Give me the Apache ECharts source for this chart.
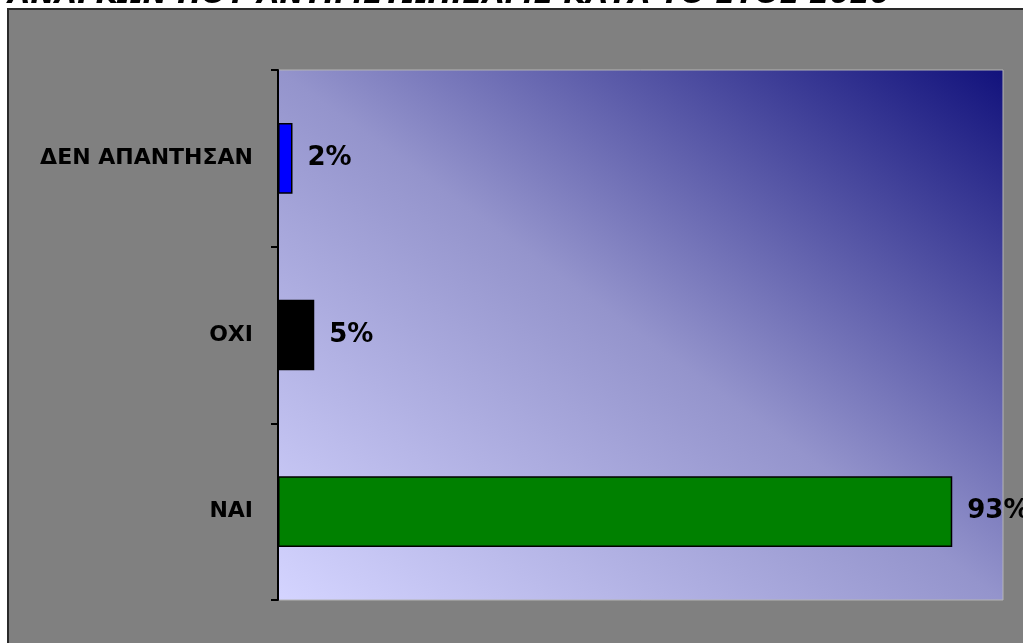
<!DOCTYPE html>
<html>
<head>
<meta charset="utf-8">
<script src="https://cdn.jsdelivr.net/npm/echarts@6/dist/echarts.min.js"></script>
<style>
  html, body { margin: 0; padding: 0; background: #fff; }
  #chart { width: 1023px; height: 643px; }
</style>
</head>
<body>
<div id="chart"></div>
<script>
// δεδομένα
const titleText = 'ΑΝΑΓΚΩΝ ΠΟΥ ΑΝΤΙΜΕΤΩΠΙΣΑΜΕ ΚΑΤΑ ΤΟ ΕΤΟΣ 2020'
const categories = ['ΝΑΙ', 'ΟΧΙ', 'ΔΕΝ ΑΠΑΝΤΗΣΑΝ']
const percentages = [93, 5, 2]
const barColors = ['#008000', '#000000', '#0000ff']

let chart = echarts.init(document.getElementById('chart'))

// διαγώνια διαβάθμιση: σκούρο πάνω δεξιά, ανοιχτό κάτω αριστερά
let plotGradient = new echarts.graphic.LinearGradient(388, 680, 893, -10, [
  {offset: 0, color: '#d4d4ff'},
  {offset: 0.5, color: '#9494cc'},
  {offset: 1, color: '#12127c'}
], true)

let option = {
  backgroundColor: '#ffffff',
  title: {
    text: titleText,
    left: 8,
    top: -19,
    padding: 0,
    textStyle: {
      fontFamily: 'DejaVu Sans',
      fontSize: 29,
      fontWeight: 'bold',
      fontStyle: 'italic',
      color: '#000'
    }
  },
  graphic: [
    {
      type: 'rect',
      z: -10,
      shape: {x: 8, y: 9, width: 1030, height: 650},
      style: {fill: '#808080', stroke: '#2a2a2a', lineWidth: 2}
    }
  ],
  grid: {
    left: 278,
    right: 20,
    top: 70,
    bottom: 43,
    show: true,
    borderColor: '#b4b4b4',
    borderWidth: 1,
    backgroundColor: plotGradient
  },
  xAxis: {
    type: 'value',
    min: 0,
    max: 100,
    show: false
  },
  yAxis: {
    type: 'category',
    data: categories,
    axisLine: {show: true, lineStyle: {color: '#000', width: 2}},
    axisTick: {show: true, length: 7, lineStyle: {color: '#000', width: 2}},
    axisLabel: {
      margin: 25,
      fontFamily: 'DejaVu Sans',
      fontSize: 22,
      fontWeight: 'bold',
      color: '#000'
    }
  },
  series: [
    {
      type: 'bar',
      barWidth: '40%',
      data: percentages.map((v, i) => ({
        value: v,
        itemStyle: {color: barColors[i], borderColor: '#000', borderWidth: 1.5}
      })),
      label: {
        show: true,
        position: 'right',
        distance: 15,
        formatter: '{c}%',
        fontFamily: 'DejaVu Sans',
        fontSize: 26,
        fontWeight: 'bold',
        color: '#000'
      }
    }
  ]
}
chart.setOption(option)
</script>
</body>
</html>
